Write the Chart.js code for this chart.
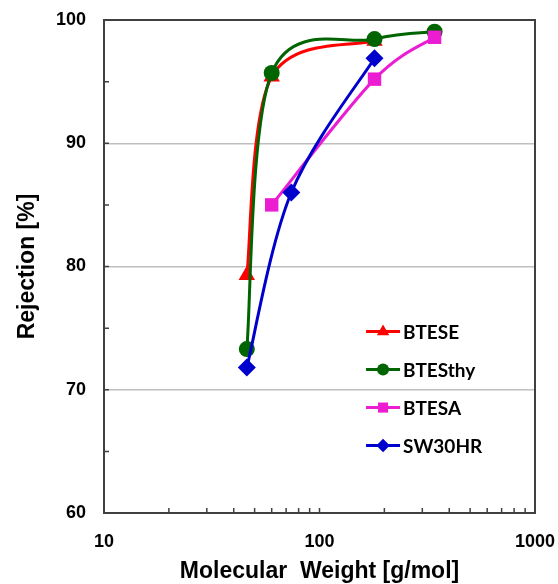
<!DOCTYPE html>
<html lang="en">
<head>
  <meta charset="UTF-8" />
  <title>Rejection vs Molecular Weight</title>
  <script src="https://cdn.jsdelivr.net/npm/chart.js@4.4.1/dist/chart.umd.min.js"></script>
  <style>
    body { margin: 0; background: #fff; }
    #chart { display: block; }
  </style>
</head>
<body>
  <canvas id="chart" width="558" height="584"></canvas>

  <script>
    // values (molecular weight in g/mol, rejection in %)
    const seriesNames = ["BTESE", "BTESthy", "BTESA", "SW30HR"];
    const bteseMW  = [46, 60, 180];
    const bteseRej = [79.3, 95.4, 98.3];
    const btesthyMW  = [46, 60, 180, 342];
    const btesthyRej = [73.3, 95.7, 98.45, 99.05];
    const btesaMW  = [60, 180, 342];
    const btesaRej = [85.0, 95.2, 98.6];
    const sw30MW  = [46, 74, 180];
    const sw30Rej = [71.8, 86.0, 96.9];

    const xTickValues = [10, 100, 1000];
    const yTickValues = [60, 70, 80, 90, 100];

    const colors = ["#ff0000", "#006400", "#ec1cd2", "#0000cc"];
    const markers = ["triangle", "circle", "rect", "rectRot"];
    const markerSizes = [9.5, 8, 9.5, 9];

    function toPoints(xs, ys) {
      return xs.map((x, i) => ({ x, y: ys[i] }));
    }
    const allData = [
      toPoints(bteseMW, bteseRej),
      toPoints(btesthyMW, btesthyRej),
      toPoints(btesaMW, btesaRej),
      toPoints(sw30MW, sw30Rej)
    ];

    const datasets = seriesNames.map((name, i) => ({
      label: name,
      data: allData[i],
      borderColor: colors[i],
      backgroundColor: colors[i],
      borderWidth: 3,
      tension: 0.4,
      pointStyle: markers[i],
      pointRadius: markerSizes[i],
      pointBorderWidth: 0,
      pointBackgroundColor: colors[i],
      order: 4 - i          // later series on top, like the original
    }));

    // spreadsheet-style smoothing: control points at +-(next - prev)/6
    const smoothLines = {
      id: 'smoothLines',
      beforeDatasetDraw(chart, args) {
        const line = args.meta.dataset;
        const pts = args.meta.data;
        line.updateControlPoints(chart.chartArea, 'x');
        pts.forEach((p, i) => {
          const prev = pts[Math.max(i - 1, 0)];
          const next = pts[Math.min(i + 1, pts.length - 1)];
          const dx = (next.x - prev.x) / 6, dy = (next.y - prev.y) / 6;
          p.cp1x = p.x - dx; p.cp1y = p.y - dy;
          p.cp2x = p.x + dx; p.cp2y = p.y + dy;
        });
        line._path = undefined;
      }
    };

    // frame, inner tick marks and the in-plot legend
    const decorations = {
      id: 'decorations',
      beforeDatasetsDraw(chart) {
        const { ctx, chartArea: a, scales } = chart;
        ctx.save();
        ctx.strokeStyle = '#404040';
        ctx.lineWidth = 1.5;
        ctx.beginPath();
        for (let v = 60; v <= 100; v += 5) {
          const y = scales.y.getPixelForValue(v);
          ctx.moveTo(a.left, y);
          ctx.lineTo(a.left + 5, y);
        }
        [10, 100].forEach(dec => {
          for (let k = 1; k <= 9; k++) {
            const x = scales.x.getPixelForValue(k * dec);
            ctx.moveTo(x, a.bottom);
            ctx.lineTo(x, a.bottom - 5);
          }
        });
        ctx.stroke();
        ctx.lineWidth = 2;
        ctx.strokeRect(a.left, a.top, a.right - a.left, a.bottom - a.top);
        ctx.restore();
      },
      afterDraw(chart) {
        const { ctx, chartArea: a } = chart;
        const w = a.right - a.left, h = a.bottom - a.top;
        const x0 = a.left + 0.608 * w;
        const y0 = a.top + 0.632 * h;
        ctx.save();
        ctx.font = 'bold 19px Lato';
        ctx.textBaseline = 'middle';
        chart.data.datasets.forEach((ds, i) => {
          const y = y0 + i * 38;
          ctx.strokeStyle = ds.borderColor;
          ctx.lineWidth = 3;
          ctx.beginPath();
          ctx.moveTo(x0, y);
          ctx.lineTo(x0 + 34, y);
          ctx.stroke();
          ctx.fillStyle = ds.borderColor;
          Chart.helpers.drawPoint(ctx, {
            pointStyle: ds.pointStyle,
            radius: ds.pointRadius * 0.75,
            rotation: 0,
            borderWidth: 0
          }, x0 + 17, y);
          ctx.fillStyle = '#000';
          ctx.fillText(ds.label, x0 + 37, y + 1);
        });
        ctx.restore();
      }
    };

    new Chart(document.getElementById('chart'), {
      type: 'line',
      data: { datasets },
      options: {
        responsive: false,
        animation: false,
        parsing: false,
        layout: { padding: { left: 0, right: 23, top: 20, bottom: 0 } },
        plugins: {
          legend: { display: false },
          tooltip: { enabled: false }
        },
        scales: {
          x: {
            type: 'logarithmic',
            min: 10,
            max: 1000,
            afterBuildTicks: s => { s.ticks = xTickValues.map(v => ({ value: v, major: true })); },
            afterFit: s => { s.height = 71; s.paddingLeft = 0; s.paddingRight = 0; },
            grid: { display: false, drawTicks: false },
            border: { display: true, color: '#404040', width: 2 },
            ticks: {
              autoSkip: false,
              maxRotation: 0,
              padding: 18,
              color: '#000',
              font: { family: 'Liberation Sans', size: 18, weight: 'bold' },
              callback: v => String(v)
            },
            title: {
              display: true,
              text: 'Molecular  Weight [g/mol]',
              color: '#000',
              font: { family: 'Liberation Sans', size: 23, weight: 'bold', lineHeight: 1.1 },
              padding: 0
            }
          },
          y: {
            min: 60,
            max: 100,
            afterBuildTicks: s => { s.ticks = yTickValues.map(v => ({ value: v })); },
            afterFit: s => { s.width = 104; s.paddingTop = 0; s.paddingBottom = 0; },
            grid: {
              drawTicks: false,
              lineWidth: 1.5,
              color: c => (c.tick && c.tick.value > 60 && c.tick.value < 100) ? '#bfbfbf' : 'rgba(0,0,0,0)'
            },
            border: { display: true, color: '#404040', width: 2 },
            ticks: {
              padding: 18,
              color: '#000',
              font: { family: 'Liberation Sans', size: 18, weight: 'bold' }
            },
            title: {
              display: true,
              text: 'Rejection [%]',
              color: '#000',
              font: { family: 'Liberation Sans', size: 23, weight: 'bold', lineHeight: 2.4 },
              padding: 0
            }
          }
        }
      },
      plugins: [smoothLines, decorations]
    });
  </script>
</body>
</html>
